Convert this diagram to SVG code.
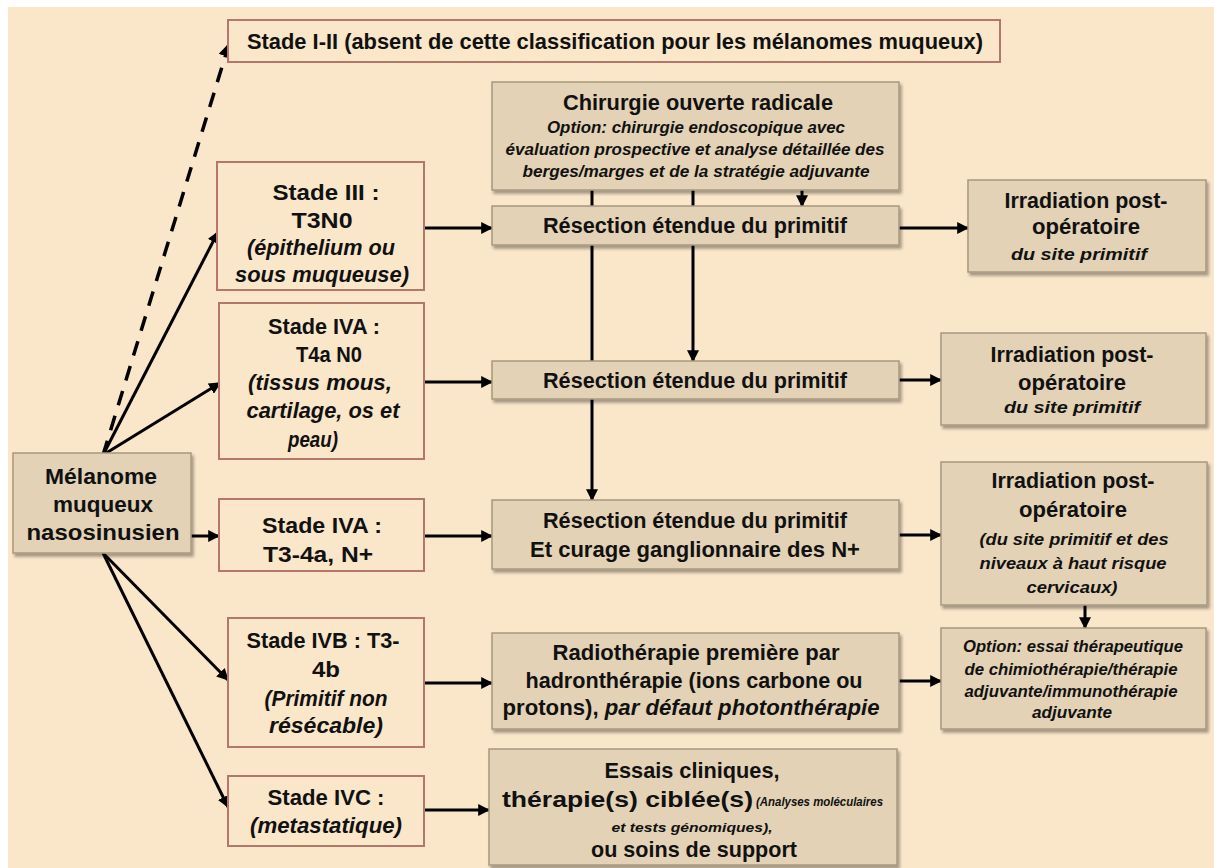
<svg xmlns="http://www.w3.org/2000/svg" width="1214" height="868" viewBox="0 0 1214 868">
<defs>
<style>
.bg{fill:#FAE6C9}
.st{fill:#FAE6C9;stroke:#B5766C;stroke-width:2}
.tan{fill:#E3D2B5;stroke:#A8987F;stroke-width:1.5;filter:url(#sh)}
text{font-family:"Liberation Sans",Arial,sans-serif;font-weight:bold;fill:#111;text-anchor:middle;font-size:22px}
.i{font-style:italic}
.n{font-size:16px}
.sm{font-size:13px}
.l{text-anchor:start}
.c{fill:none;stroke:#000;stroke-width:3}
.d{stroke-dasharray:15 11;stroke-width:3.5}
.a{marker-end:url(#ah)}
</style>
<marker id="ah" viewBox="0 0 10 10" refX="9" refY="5" markerWidth="4" markerHeight="4" orient="auto" markerUnits="strokeWidth">
<path d="M0,0 L10,5 L0,10 z" fill="#000"/>
</marker>
<filter id="sh" x="-5%" y="-10%" width="115%" height="130%">
<feDropShadow dx="2" dy="3" stdDeviation="1.5" flood-color="#000" flood-opacity="0.35"/>
</filter>
</defs>
<rect x="0" y="0" width="1214" height="868" fill="#FFFFFF"/>
<rect class="bg" x="8" y="7" width="1206" height="861"/>

<g id="connectors">
<path class="c d a" d="M103,455 L229,44"/>
<path class="c a" d="M103,455 L218,232"/>
<path class="c a" d="M103,455 L220,383"/>
<path class="c a" d="M191,536 L219,536"/>
<path class="c a" d="M103,553 L228,680"/>
<path class="c a" d="M103,553 L228,807"/>
<path class="c a" d="M424,228 L492,228"/>
<path class="c a" d="M424,382 L492,382"/>
<path class="c a" d="M424,536 L492,536"/>
<path class="c a" d="M424,683 L492,683"/>
<path class="c a" d="M424,810 L489,810"/>
<path class="c a" d="M592,190 L592,500"/>
<path class="c a" d="M693,190 L693,361"/>
<path class="c a" d="M802,190 L802,206"/>
<path class="c a" d="M899,228 L968,228"/>
<path class="c a" d="M899,380 L941,380"/>
<path class="c a" d="M899,535 L941,535"/>
<path class="c a" d="M899,681 L941,681"/>
<path class="c a" d="M1085,605 L1085,628"/>
</g>

<g id="stade-1-2">
<rect class="st" x="228" y="20" width="772" height="42"/>
<text x="615" y="49" textLength="736" lengthAdjust="spacingAndGlyphs">Stade I-II (absent de cette classification pour les mélanomes muqueux)</text>
</g>
<g id="stade-3">
<rect class="st" x="217" y="162" width="207" height="128"/>
<text x="326" y="200" textLength="107" lengthAdjust="spacingAndGlyphs">Stade III :</text>
<text x="322" y="228" textLength="61" lengthAdjust="spacingAndGlyphs">T3N0</text>
<text x="321" y="255" class="i" textLength="148" lengthAdjust="spacingAndGlyphs">(épithelium ou</text>
<text x="322" y="282" class="i" textLength="174" lengthAdjust="spacingAndGlyphs">sous muqueuse)</text>
</g>
<g id="stade-4a-n0">
<rect class="st" x="219" y="303" width="205" height="156"/>
<text x="324" y="334" textLength="112" lengthAdjust="spacingAndGlyphs">Stade IVA :</text>
<text x="329" y="362" textLength="66" lengthAdjust="spacingAndGlyphs">T4a N0</text>
<text x="320" y="390" class="i" textLength="144" lengthAdjust="spacingAndGlyphs">(tissus mous,</text>
<text x="323" y="418" class="i" textLength="153" lengthAdjust="spacingAndGlyphs">cartilage, os et</text>
<text x="313" y="447" class="i" textLength="50" lengthAdjust="spacingAndGlyphs">peau)</text>
</g>
<g id="melanome">
<rect class="tan" x="13" y="453" width="178" height="100"/>
<text x="101" y="484" textLength="112" lengthAdjust="spacingAndGlyphs">Mélanome</text>
<text x="103" y="512" textLength="100" lengthAdjust="spacingAndGlyphs">muqueux</text>
<text x="103" y="540" textLength="153" lengthAdjust="spacingAndGlyphs">nasosinusien</text>
</g>
<g id="stade-4a-n">
<rect class="st" x="219" y="499" width="205" height="72"/>
<text x="322" y="533" textLength="120" lengthAdjust="spacingAndGlyphs">Stade IVA :</text>
<text x="318" y="562" textLength="110" lengthAdjust="spacingAndGlyphs">T3-4a, N+</text>
</g>
<g id="stade-4b">
<rect class="st" x="228" y="618" width="196" height="129"/>
<text x="323" y="648" textLength="153" lengthAdjust="spacingAndGlyphs">Stade IVB : T3-</text>
<text x="326" y="677" textLength="28" lengthAdjust="spacingAndGlyphs">4b</text>
<text x="326" y="706" class="i" textLength="123" lengthAdjust="spacingAndGlyphs">(Primitif non</text>
<text x="326" y="733" class="i" textLength="114" lengthAdjust="spacingAndGlyphs">résécable)</text>
</g>
<g id="stade-4c">
<rect class="st" x="228" y="776" width="196" height="70"/>
<text x="326" y="805" textLength="117" lengthAdjust="spacingAndGlyphs">Stade IVC :</text>
<text x="326" y="833" class="i" textLength="152" lengthAdjust="spacingAndGlyphs">(metastatique)</text>
</g>

<g id="chirurgie">
<rect class="tan" x="492" y="82" width="407" height="108"/>
<text x="698" y="110" textLength="270" lengthAdjust="spacingAndGlyphs">Chirurgie ouverte radicale</text>
<text x="696" y="133" class="i n" textLength="298" lengthAdjust="spacingAndGlyphs">Option: chirurgie endoscopique avec</text>
<text x="695" y="155" class="i n" textLength="379" lengthAdjust="spacingAndGlyphs">évaluation prospective et analyse détaillée des</text>
<text x="696" y="177" class="i n" textLength="347" lengthAdjust="spacingAndGlyphs">berges/marges et de la stratégie adjuvante</text>
</g>
<g id="resection-1">
<rect class="tan" x="492" y="206" width="407" height="39"/>
<text x="695" y="233" textLength="304" lengthAdjust="spacingAndGlyphs">Résection étendue du primitif</text>
</g>
<g id="resection-2">
<rect class="tan" x="492" y="361" width="407" height="38"/>
<text x="695" y="388" textLength="304" lengthAdjust="spacingAndGlyphs">Résection étendue du primitif</text>
</g>
<g id="resection-3">
<rect class="tan" x="492" y="500" width="407" height="69"/>
<text x="695" y="528" textLength="304" lengthAdjust="spacingAndGlyphs">Résection étendue du primitif</text>
<text x="695" y="557" textLength="330" lengthAdjust="spacingAndGlyphs">Et curage ganglionnaire des N+</text>
</g>
<g id="radiotherapie">
<rect class="tan" x="492" y="633" width="407" height="96"/>
<text x="696" y="660" textLength="287" lengthAdjust="spacingAndGlyphs">Radiothérapie première par</text>
<text x="694" y="688" textLength="337" lengthAdjust="spacingAndGlyphs">hadronthérapie (ions carbone ou</text>
<text x="691" y="715" textLength="377" lengthAdjust="spacingAndGlyphs">protons), <tspan class="i">par défaut photonthérapie</tspan></text>
</g>
<g id="essais">
<rect class="tan" x="489" y="749" width="408" height="116"/>
<text x="692" y="778" textLength="175" lengthAdjust="spacingAndGlyphs">Essais cliniques,</text>
<text x="502" y="807" class="l" textLength="251" lengthAdjust="spacingAndGlyphs">thérapie(s) ciblée(s)</text>
<text x="756" y="806" class="l i sm" textLength="127" lengthAdjust="spacingAndGlyphs">(Analyses moléculaires</text>
<text x="692" y="832" class="i sm" textLength="161" lengthAdjust="spacingAndGlyphs">et tests génomiques),</text>
<text x="694" y="857" textLength="206" lengthAdjust="spacingAndGlyphs">ou soins de support</text>
</g>

<g id="irradiation-1">
<rect class="tan" x="968" y="180" width="238" height="92"/>
<text x="1086" y="208" textLength="163" lengthAdjust="spacingAndGlyphs">Irradiation post-</text>
<text x="1086" y="234" textLength="108" lengthAdjust="spacingAndGlyphs">opératoire</text>
<text x="1079" y="260" class="i n" textLength="136" lengthAdjust="spacingAndGlyphs">du site primitif</text>
</g>
<g id="irradiation-2">
<rect class="tan" x="941" y="333" width="265" height="92"/>
<text x="1072" y="362" textLength="163" lengthAdjust="spacingAndGlyphs">Irradiation post-</text>
<text x="1072" y="390" textLength="108" lengthAdjust="spacingAndGlyphs">opératoire</text>
<text x="1072" y="413" class="i n" textLength="136" lengthAdjust="spacingAndGlyphs">du site primitif</text>
</g>
<g id="irradiation-3">
<rect class="tan" x="941" y="462" width="266" height="143"/>
<text x="1073" y="488" textLength="163" lengthAdjust="spacingAndGlyphs">Irradiation post-</text>
<text x="1073" y="517" textLength="108" lengthAdjust="spacingAndGlyphs">opératoire</text>
<text x="1074" y="545" class="i n" textLength="189" lengthAdjust="spacingAndGlyphs">(du site primitif et des</text>
<text x="1073" y="569" class="i n" textLength="187" lengthAdjust="spacingAndGlyphs">niveaux à haut risque</text>
<text x="1072" y="593" class="i n" textLength="91" lengthAdjust="spacingAndGlyphs">cervicaux)</text>
</g>
<g id="option">
<rect class="tan" x="941" y="628" width="265" height="101"/>
<text x="1073" y="652" class="i n" textLength="220" lengthAdjust="spacingAndGlyphs">Option: essai thérapeutique</text>
<text x="1071" y="675" class="i n" textLength="213" lengthAdjust="spacingAndGlyphs">de chimiothérapie/thérapie</text>
<text x="1071" y="697" class="i n" textLength="213" lengthAdjust="spacingAndGlyphs">adjuvante/immunothérapie</text>
<text x="1072" y="718" class="i n" textLength="80" lengthAdjust="spacingAndGlyphs">adjuvante</text>
</g>
</svg>
